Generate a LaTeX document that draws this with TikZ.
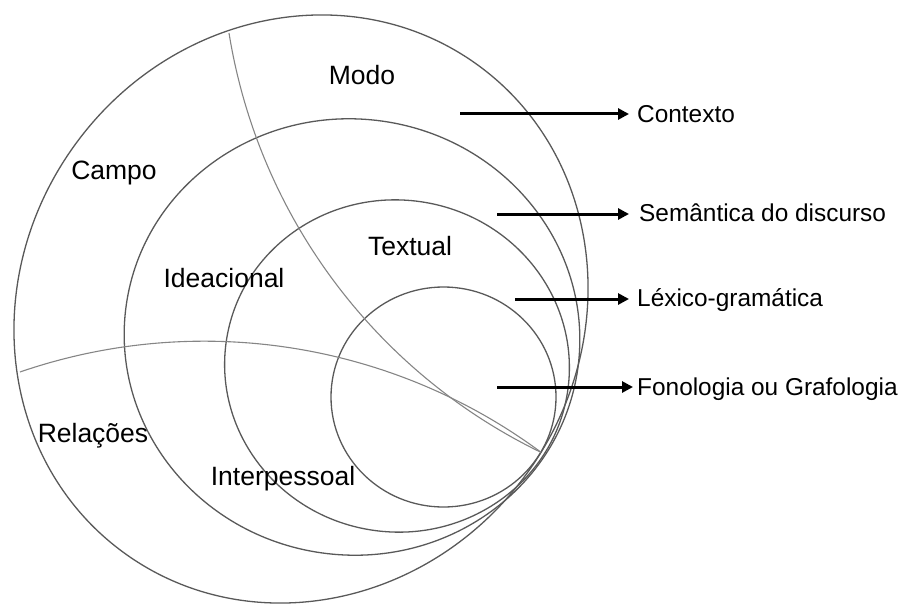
\documentclass[tikz,border=0pt]{standalone}
\usepackage{fontspec}
\setmainfont{Liberation Sans}
\usetikzlibrary{arrows.meta}
\begin{document}
\begin{tikzpicture}[x=1pt,y=-1pt,
  ring/.style={draw=black!65, line width=1.3pt},
  divider/.style={draw=black!48, line width=1.1pt},
  region/.style={font=\fontsize{26.5}{30}\selectfont, inner sep=0pt,
    text height=19pt, text depth=0pt},
  stratum/.style={font=\fontsize{24.4}{28}\selectfont, inner sep=0pt,
    anchor=west, text height=17.5pt, text depth=0pt},
  pointer/.style={line width=3pt, -{Triangle[length=11pt,width=11pt]}}]
\useasboundingbox (0,0) rectangle (901,604);

% nested strata, all meeting near the lower right
\draw[ring, rotate around={54.3:(301,309)}] (301,309) ellipse [x radius=301.3, y radius=279.4];
\draw[ring, rotate around={-8:(352,337)}] (352,337) ellipse [x radius=228, y radius=218];
\draw[ring, rotate around={-8:(397,366)}] (397,366) ellipse [x radius=172.5, y radius=166];
\draw[ring] (443.5,397) ellipse [x radius=112.5, y radius=110];

% the two curved dividers running into the common point
\draw[divider] (229,33) arc[start angle=170.85, end angle=115.9, radius=566];
\draw[divider] (20,372) arc[start angle=251.0, end angle=306.5, radius=566];

% region labels
\node[region] (modo) at (362,75) {Modo};
\node[region] (campo) at (114,170) {Campo};
\node[region] (ideac) at (224,278) {Ideacional};
\node[region] (textual) at (410,246) {Textual};
\node[region] (relac) at (93,433) {Relações};
\node[region] (interp) at (283,476) {Interpessoal};

% strata names with their pointers
\node[stratum] (ctx) at (637,114) {Contexto};
\node[stratum] (sem) at (639,213) {Semântica do discurso};
\node[stratum] (lex) at (637,298) {Léxico-gramática};
\node[stratum] (fon) at (637,387) {Fonologia ou Grafologia};

\coordinate (p1) at (460,114);
\coordinate (p2) at (497,214);
\coordinate (p3) at (515,299);
\coordinate (p4) at (497,387);

\draw[pointer, shorten >=8pt] (p1) -- (p1 -| ctx.west);
\draw[pointer, shorten >=10pt] (p2) -- (p2 -| sem.west);
\draw[pointer, shorten >=8pt] (p3) -- (p3 -| lex.west);
\draw[pointer, shorten >=4pt] (p4) -- (p4 -| fon.west);
\end{tikzpicture}
\end{document}
